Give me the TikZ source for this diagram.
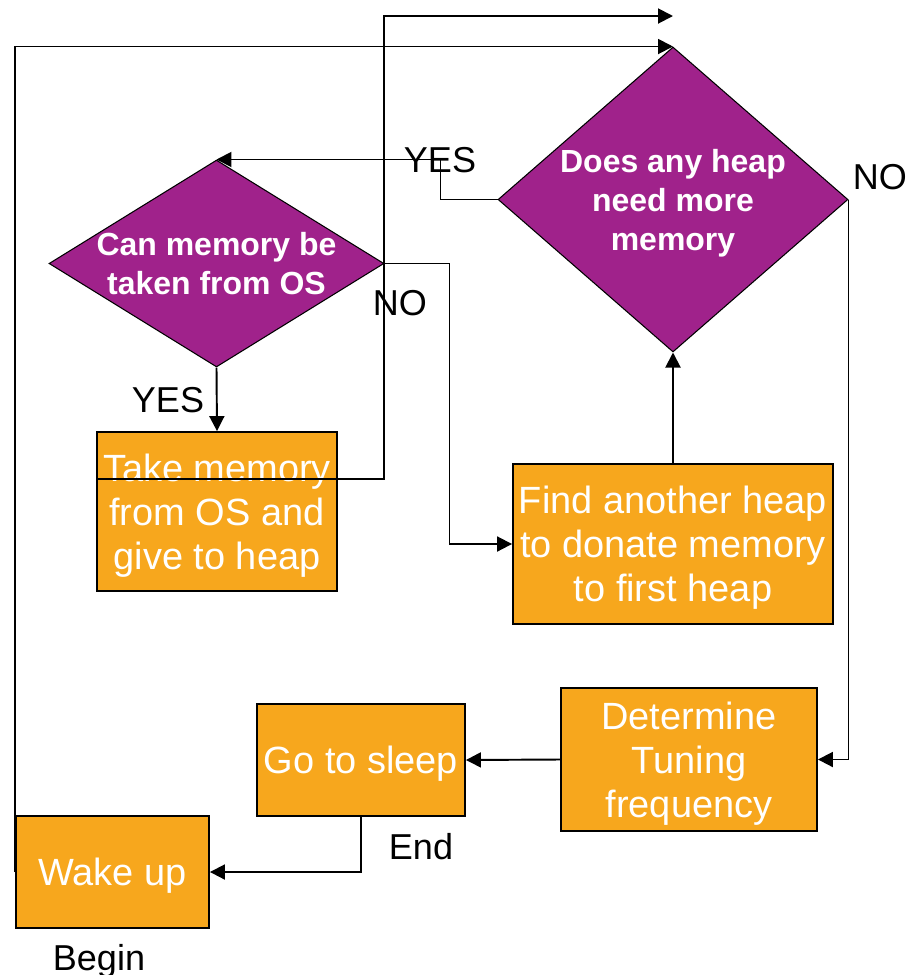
\documentclass[tikz,border=0pt]{standalone}
\usepackage{fontspec}
\setmainfont{Liberation Sans}
\usetikzlibrary{shapes.geometric,arrows.meta}
\definecolor{boxorange}{RGB}{247,167,29}
\definecolor{decpurple}{RGB}{160,34,139}
\tikzset{
  stepbox/.style={draw=black, line width=1.1pt, fill=boxorange, text=white,
    align=center, inner sep=0pt, text depth=0pt, font=\fontsize{21.6}{25}\selectfont},
  decision/.style={draw=black, line width=0.6pt, fill=decpurple,
    shape=diamond, inner sep=0pt},
  dectext/.style={text=white, align=center, text depth=0pt,
    font=\bfseries\fontsize{18.2}{22.2}\selectfont},
  tag/.style={anchor=base, inner sep=0pt, font=\fontsize{20.5}{24}\selectfont},
  flow/.style={line width=1.1pt, -{Triangle[length=0.3cm,width=0.3cm]}},
}
\begin{document}
\begin{tikzpicture}[x=0.02cm, y=-0.02cm]
  \useasboundingbox (0,0) rectangle (908,975);
  \node[decision, minimum width=7cm, minimum height=6.1cm] (heap) at (673,199.5) {};
  \node[dectext] (heaptext) at (heap) {Does any heap\\need more\\memory};
  \node[decision, minimum width=6.7cm, minimum height=4.14cm] (os) at (216.5,263.5) {};
  \node[dectext] (ostext) at (os) {Can memory be\\taken from OS};
  \node[stepbox, minimum width=4.8cm, minimum height=3.18cm] (take) at (217,511.5)
    {Take memory\\from OS and\\give to heap};
  \node[stepbox, minimum width=6.4cm, minimum height=3.2cm] (find) at (673,544)
    {Find another heap\\to donate memory\\to first heap};
  \node[stepbox, minimum width=5.12cm, minimum height=2.86cm] (tune) at (689,759.5)
    {Determine\\Tuning\\frequency};
  \node[stepbox, minimum width=4.16cm, minimum height=2.24cm] (sleep) at (361,760)
    {Go to sleep};
  \node[stepbox, minimum width=3.86cm, minimum height=2.24cm] (wake) at (112.5,872)
    {Wake up};
  \coordinate (tk) at (97,479);
  \coordinate (topend) at (673,16);

  \node[tag] (yeshi) at (440,172) {YES};
  \node[tag] (nohi) at (880,189) {NO};
  \node[tag] (nolo) at (400,315) {NO};
  \node[tag] (yeslo) at (168,412) {YES};
  \node[tag] (endtag) at (421,859) {End};
  \node[tag] (begintag) at (99,970) {Begin};

  \draw[flow] (wake.west) |- (heap.north);
  \draw[flow] (heap.west) -- ++(-57,0) |- (os.north);
  \draw[flow] (heap.east) |- (tune.east);
  \draw[flow] (find.north) -- (heap.south);
  \draw[flow] (os.east) -- ++(65,0) |- (find.west);
  \draw[flow] (os.south) -- (take.north);
  \draw[flow] (tk) -- ++(287,0) |- (topend);
  \draw[flow] (tune.west) -- (sleep.east);
  \draw[flow] (sleep.south) |- (wake.east);
\end{tikzpicture}
\end{document}
